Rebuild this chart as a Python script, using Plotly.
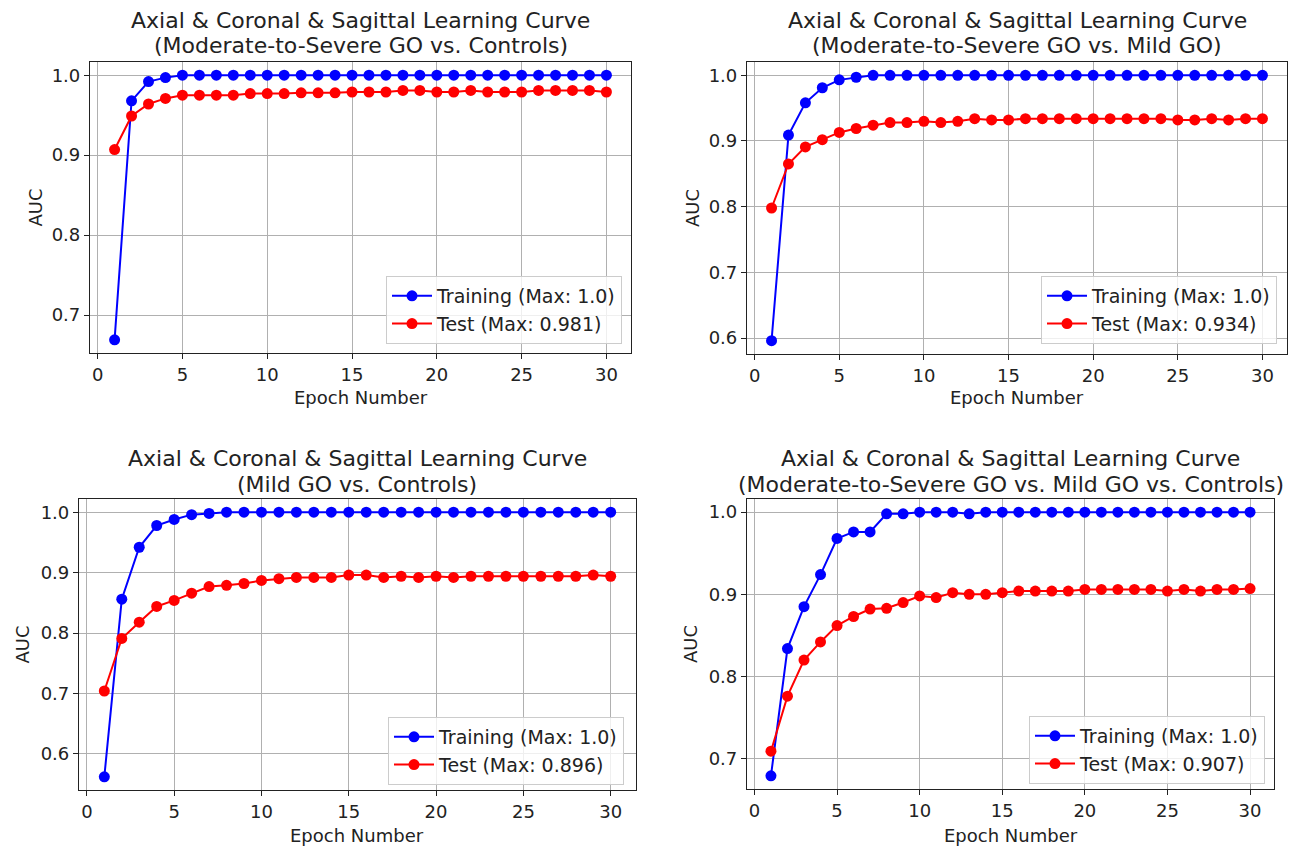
import plotly.graph_objects as go

epochs = list(range(1, 31))

title_line1 = "Axial & Coronal & Sagittal Learning Curve"
title_line2 = [
    "(Moderate-to-Severe GO vs. Controls)",
    "(Moderate-to-Severe GO vs. Mild GO)",
    "(Mild GO vs. Controls)",
    "(Moderate-to-Severe GO vs. Mild GO vs. Controls)",
]

train_1 = [0.669, 0.968, 0.992, 0.997] + [1.0] * 26
test_1 = [0.907, 0.949, 0.964, 0.971, 0.975, 0.975, 0.975, 0.975, 0.977, 0.977,
          0.977, 0.978, 0.978, 0.978, 0.979, 0.979, 0.979, 0.981, 0.981, 0.979,
          0.979, 0.981, 0.979, 0.979, 0.979, 0.981, 0.981, 0.981, 0.981, 0.979]

train_2 = [0.596, 0.909, 0.958, 0.981, 0.993, 0.997] + [1.0] * 24
test_2 = [0.798, 0.865, 0.891, 0.902, 0.913, 0.919, 0.924, 0.928, 0.928, 0.930,
          0.928, 0.930, 0.934, 0.932, 0.932, 0.934, 0.934, 0.934, 0.934, 0.934,
          0.934, 0.934, 0.934, 0.934, 0.932, 0.932, 0.934, 0.932, 0.934, 0.934]

train_3 = [0.562, 0.856, 0.942, 0.978, 0.988, 0.996, 0.998] + [1.0] * 23
test_3 = [0.704, 0.791, 0.818, 0.844, 0.854, 0.866, 0.877, 0.879, 0.882, 0.887,
          0.890, 0.892, 0.892, 0.892, 0.896, 0.896, 0.892, 0.894, 0.892, 0.894,
          0.892, 0.894, 0.894, 0.894, 0.894, 0.894, 0.894, 0.894, 0.896, 0.894]

train_4 = [0.679, 0.834, 0.885, 0.924, 0.968, 0.976, 0.976, 0.998, 0.998, 1.0,
           1.0, 1.0, 0.998] + [1.0] * 17
test_4 = [0.709, 0.776, 0.820, 0.842, 0.862, 0.873, 0.882, 0.883, 0.890, 0.898,
          0.896, 0.902, 0.900, 0.900, 0.902, 0.904, 0.904, 0.904, 0.904, 0.906,
          0.906, 0.906, 0.906, 0.906, 0.904, 0.906, 0.904, 0.906, 0.906, 0.907]

train_max_labels = ["1.0", "1.0", "1.0", "1.0"]
test_max_labels = ["0.981", "0.934", "0.896", "0.907"]

panels = [(train_1, test_1), (train_2, test_2), (train_3, test_3), (train_4, test_4)]

W, H = 1296, 847


def PX(px):
    return px / W


def PY(py):
    return 1 - py / H


# panel boxes in reference pixels: (left, right, top, bottom)
boxes = [
    (90, 631, 62, 353),
    (747, 1287, 62, 354),
    (79, 636, 499, 790),
    (747, 1274, 499, 789),
]
legend_pos = [(622, 344), (1277, 344), (624, 785), (1265, 784)]
ylabel_x = [35, 692, 22, 690]
xlabel_y = [397, 397, 835, 835]
title_y = [(20, 45), (20, 45), (458, 484), (458, 484)]

FONT = "DejaVu Sans, sans-serif"
TXT = "#222"
fig = go.Figure()
annotations = []
layout = dict(
    width=W, height=H, margin=dict(l=0, r=0, t=0, b=0),
    paper_bgcolor="white", plot_bgcolor="white",
    font=dict(family=FONT, size=18, color=TXT),
)

for i, (tr, te) in enumerate(panels):
    n = i + 1
    sfx = "" if n == 1 else str(n)
    L, R, T, B = boxes[i]
    lo = min(tr + te)
    hi = max(tr + te)
    pad = (hi - lo) * 0.05
    xpad = (max(epochs) - min(epochs)) * 0.05
    leg = "legend" if n == 1 else f"legend{n}"
    fig.add_trace(go.Scatter(
        x=epochs, y=tr, mode="lines+markers", name=f"Training (Max: {train_max_labels[i]})",
        line=dict(color="#0000ff", width=2), marker=dict(color="#0000ff", size=11),
        xaxis=f"x{sfx}", yaxis=f"y{sfx}", legend=leg))
    fig.add_trace(go.Scatter(
        x=epochs, y=te, mode="lines+markers", name=f"Test (Max: {test_max_labels[i]})",
        line=dict(color="#ff0000", width=2), marker=dict(color="#ff0000", size=11),
        xaxis=f"x{sfx}", yaxis=f"y{sfx}", legend=leg))
    axcommon = dict(showgrid=True, gridcolor="#b0b0b0", gridwidth=1,
                    showline=True, linecolor=TXT, linewidth=1.2, mirror=True,
                    ticks="outside", ticklen=5, tickcolor=TXT,
                    tickfont=dict(size=18, family=FONT, color=TXT), zeroline=False)
    layout[f"xaxis{sfx}"] = dict(
        domain=[PX(L), PX(R)], anchor=f"y{sfx}",
        range=[min(epochs) - xpad, max(epochs) + xpad],
        tickmode="array", tickvals=[0, 5, 10, 15, 20, 25, 30], **axcommon)
    layout[f"yaxis{sfx}"] = dict(
        domain=[PY(B), PY(T)], anchor=f"x{sfx}",
        range=[lo - pad, hi + pad], dtick=0.1, tickformat=".1f", **axcommon)
    lx, ly = legend_pos[i]
    layout[leg] = dict(x=PX(lx), y=PY(ly), xanchor="right", yanchor="bottom",
                       xref="paper", yref="paper",
                       bgcolor="rgba(255,255,255,0.8)", bordercolor="#cccccc", borderwidth=1,
                       font=dict(size=19, family=FONT, color=TXT),
                       tracegroupgap=0, itemwidth=40)
    cx = PX((L + R) / 2)
    for line_text, yy in zip([title_line1, title_line2[i]], title_y[i]):
        annotations.append(dict(text=line_text, x=cx, y=PY(yy),
                                xref="paper", yref="paper", xanchor="center", yanchor="middle",
                                showarrow=False, font=dict(size=22, family=FONT, color=TXT)))
    annotations.append(dict(text="Epoch Number", x=cx, y=PY(xlabel_y[i]),
                            xref="paper", yref="paper", xanchor="center", yanchor="middle",
                            showarrow=False, font=dict(size=18, family=FONT, color=TXT)))
    annotations.append(dict(text="AUC", x=PX(ylabel_x[i]), y=PY((T + B) / 2),
                            xref="paper", yref="paper", xanchor="center", yanchor="middle",
                            textangle=-90, showarrow=False,
                            font=dict(size=18, family=FONT, color=TXT)))

layout["annotations"] = annotations
fig.update_layout(**layout)
fig.write_html(
    "out.html",
    config={"displayModeBar": False},
    post_script="document.body.style.margin='0';document.body.style.overflow='hidden';",
)
